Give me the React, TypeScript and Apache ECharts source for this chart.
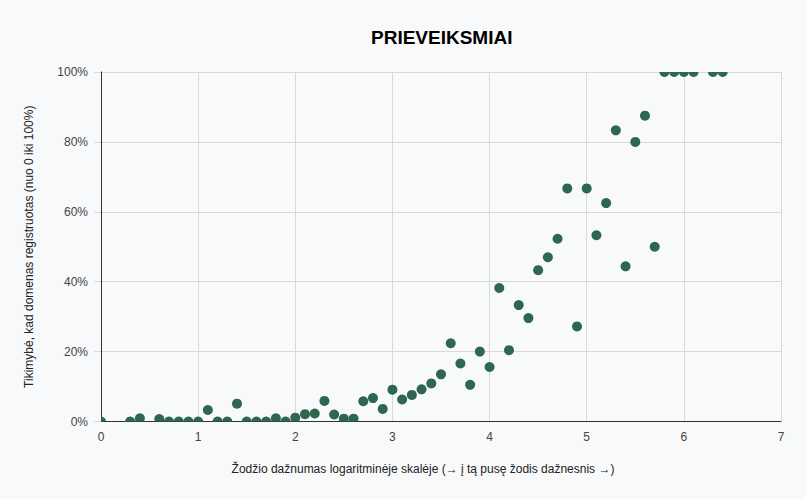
import React, { useEffect, useRef } from "react";
import * as echarts from "echarts";

const TITLE = "PRIEVEIKSMIAI";
const X_NAME = "Žodžio dažnumas logaritminėje skalėje (→ į tą pusę žodis dažnesnis →)";
const Y_NAME = "Tikimybė, kad domenas registruotas (nuo 0 iki 100%)";

const xValues = [
  0, 0.3, 0.4, 0.6, 0.7, 0.8, 0.9, 1.0, 1.1, 1.2, 1.3, 1.4, 1.5, 1.6, 1.7, 1.8, 1.9,
  2.0, 2.1, 2.2, 2.3, 2.4, 2.5, 2.6, 2.7, 2.8, 2.9, 3.0, 3.1, 3.2, 3.3, 3.4, 3.5, 3.6,
  3.7, 3.8, 3.9, 4.0, 4.1, 4.2, 4.3, 4.4, 4.5, 4.6, 4.7, 4.8, 4.9, 5.0, 5.1, 5.2, 5.3,
  5.4, 5.5, 5.6, 5.7, 5.8, 5.9, 6.0, 6.1, 6.3, 6.4,
];
const yValues = [
  0, 0, 0.9, 0.7, 0, 0, 0, 0, 3.3, 0, 0, 5.1, 0, 0, 0, 0.9, 0,
  1.1, 2.1, 2.3, 5.9, 2.0, 0.8, 0.8, 5.8, 6.7, 3.6, 9.1, 6.3, 7.6, 9.2, 10.9, 13.5, 22.4,
  16.6, 10.5, 20.0, 15.6, 38.2, 20.4, 33.3, 29.6, 43.3, 47.0, 52.3, 66.7, 27.2, 66.7, 53.3, 62.5, 83.3,
  44.4, 80.0, 87.5, 50.0, 100, 100, 100, 100, 100, 100,
];
const yTicks = [0, 20, 40, 60, 80, 100];
const xTicks = [0, 1, 2, 3, 4, 5, 6, 7];

const FONT = "'Liberation Sans', Arial, sans-serif";

export default function App() {
  const ref = useRef<HTMLDivElement>(null);
  useEffect(() => {
    document.body.style.margin = "0";
    document.body.style.background = "#f8f9fa";
    const chart = echarts.init(ref.current!, null, { renderer: "svg" });
    const data = xValues.map((x, i) => [x, yValues[i]]);
    chart.setOption({
      animation: false,
      backgroundColor: "#f8f9fa",
      textStyle: { fontFamily: FONT },
      title: {
        text: TITLE,
        left: 371,
        top: 28,
        padding: 0,
        textStyle: { fontFamily: FONT, fontSize: 19, fontWeight: "bold", color: "#000" },
      },
      grid: { left: 101, right: 25, top: 72, bottom: 77.5, containLabel: false },
      xAxis: {
        type: "value",
        min: xTicks[0],
        max: xTicks[xTicks.length - 1],
        interval: 1,
        axisLine: { show: true, onZero: false, lineStyle: { color: "#333", width: 1 } },
        axisTick: { show: false },
        splitLine: { show: true, lineStyle: { color: "#d9d9d9", width: 1 } },
        axisLabel: { color: "#444", fontSize: 12, margin: 9, fontFamily: FONT },
      },
      yAxis: {
        type: "value",
        min: yTicks[0],
        max: yTicks[yTicks.length - 1],
        interval: 20,
        name: Y_NAME,
        nameLocation: "middle",
        nameGap: 66,
        nameTextStyle: { color: "#222", fontSize: 12, fontFamily: FONT },
        axisLine: { show: true, lineStyle: { color: "#333", width: 1 } },
        axisTick: { show: true, length: 7, lineStyle: { color: "#d9d9d9" } },
        splitLine: { show: true, lineStyle: { color: "#d9d9d9", width: 1 } },
        axisLabel: {
          color: "#444",
          fontSize: 12,
          margin: 13,
          fontFamily: FONT,
          formatter: (v: number) => v + "%",
        },
      },
      graphic: [
        {
          type: "text",
          x: 423,
          y: 469,
          style: {
            text: X_NAME,
            fontSize: 12,
            fontFamily: FONT,
            fill: "#222",
            align: "center",
            verticalAlign: "middle",
          },
        },
      ],
      series: [
        {
          type: "custom",
          clip: true,
          data,
          encode: { x: 0, y: 1 },
          z: 1,
          renderItem: (params: any, api: any) => {
            const p = api.coord([api.value(0), api.value(1)]);
            return {
              type: "circle",
              shape: { cx: p[0], cy: p[1], r: 5 },
              style: { fill: "#2e6650" },
            };
          },
        },
      ],
    });
    return () => chart.dispose();
  }, []);
  return (
    <div
      ref={ref}
      style={{ position: "absolute", left: 0, top: 0, width: 806, height: 499, background: "#f8f9fa" }}
    />
  );
}
